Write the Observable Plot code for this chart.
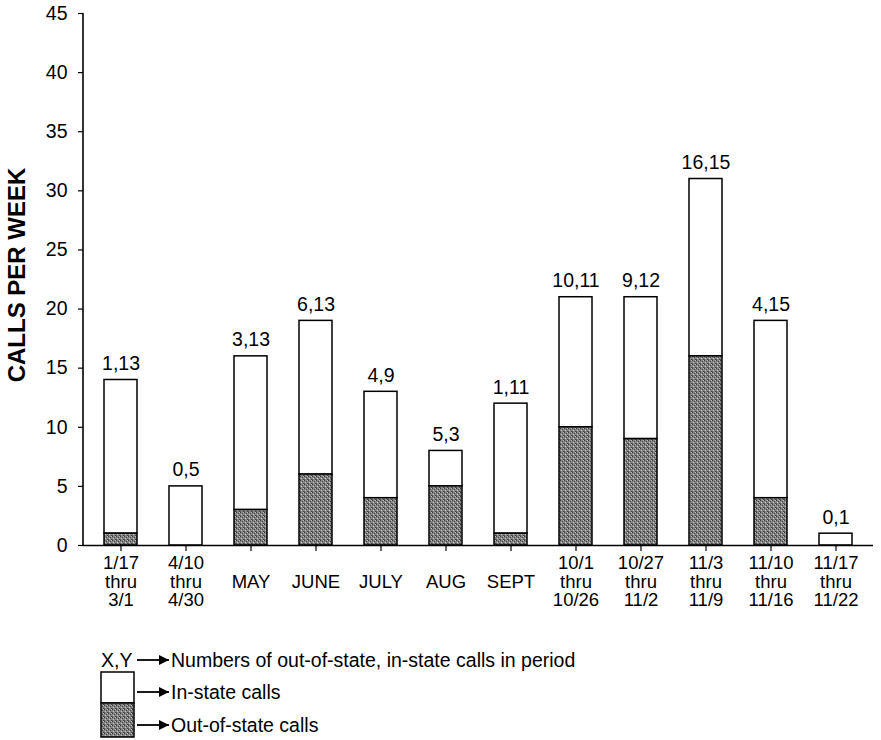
<!DOCTYPE html>
<html>
<head>
<meta charset="utf-8">
<script src="https://cdn.jsdelivr.net/npm/d3@7"></script>
<script src="https://cdn.jsdelivr.net/npm/@observablehq/plot@0.6"></script>
<style>
  html, body { margin: 0; padding: 0; background: #fff; }
  #chart svg { display: block; }
  #legend { display: block; }
</style>
</head>
<body>
<div id="chart"></div>
<svg id="legend" width="881" height="95" font-family="'Liberation Sans', Arial, Helvetica, sans-serif" font-size="19.5">
  <defs>
    <pattern id="stippleL" width="4" height="4" patternUnits="userSpaceOnUse">
      <rect width="4" height="4" fill="#858585"/>
      <rect x="0" y="0" width="1" height="1" fill="#3c3c3c"/>
      <rect x="2" y="1" width="1" height="1" fill="#4a4a4a"/>
      <rect x="1" y="2" width="1" height="1" fill="#c8c8c8"/>
      <rect x="3" y="3" width="1" height="1" fill="#444"/>
      <rect x="3" y="0" width="1" height="1" fill="#bbb"/>
      <rect x="0" y="3" width="1" height="1" fill="#5a5a5a"/>
    </pattern>
    <marker id="ah" viewBox="0 0 10 10" refX="10" refY="5" markerWidth="11" markerHeight="10" markerUnits="userSpaceOnUse" orient="auto">
      <path d="M0,0 L10,5 L0,10 z" fill="#000"/>
    </marker>
  </defs>
  <text x="101" y="15" dominant-baseline="central">X,Y</text>
  <line x1="137" y1="15" x2="169" y2="15" stroke="#000" stroke-width="1.8" marker-end="url(#ah)"/>
  <text x="171" y="15" dominant-baseline="central">Numbers of out-of-state, in-state calls in period</text>
  <rect x="101" y="27" width="33" height="31" fill="#fff" stroke="#000" stroke-width="1.5"/>
  <rect x="101" y="58" width="33" height="34" fill="url(#stippleL)" stroke="#000" stroke-width="1.5"/>
  <line x1="137" y1="47" x2="169" y2="47" stroke="#000" stroke-width="1.8" marker-end="url(#ah)"/>
  <text x="171" y="47" dominant-baseline="central">In-state calls</text>
  <line x1="137" y1="80" x2="169" y2="80" stroke="#000" stroke-width="1.8" marker-end="url(#ah)"/>
  <text x="171" y="80" dominant-baseline="central">Out-of-state calls</text>
</svg>
<script>
const periods = ["1/17-3/1", "4/10-4/30", "MAY", "JUNE", "JULY", "AUG", "SEPT",
  "10/1-10/26", "10/27-11/2", "11/3-11/9", "11/10-11/16", "11/17-11/22"];
const tickLabels = ["1/17\nthru\n3/1", "4/10\nthru\n4/30", "\nMAY", "\nJUNE", "\nJULY", "\nAUG", "\nSEPT",
  "10/1\nthru\n10/26", "10/27\nthru\n11/2", "11/3\nthru\n11/9", "11/10\nthru\n11/16", "11/17\nthru\n11/22"];
const outOfState = [1, 0, 3, 6, 4, 5, 1, 10, 9, 16, 4, 0];
const inState = [13, 5, 13, 13, 9, 3, 11, 11, 12, 15, 15, 1];
const yTicks = [0, 5, 10, 15, 20, 25, 30, 35, 40, 45];

const rows = periods.map((p, i) => ({
  period: p,
  out: outOfState[i],
  inn: inState[i],
  total: outOfState[i] + inState[i],
  label: `${outOfState[i]},${inState[i]}`
}));
const labelOf = new Map(periods.map((p, i) => [p, tickLabels[i]]));

const font = "'Liberation Sans', Arial, Helvetica, sans-serif";

const plot = Plot.plot({
  width: 881,
  height: 645,
  marginLeft: 83,
  marginRight: 8,
  marginTop: 13,
  marginBottom: 100,
  style: { fontFamily: font, fontSize: "19.5px", color: "#000", background: "#fff" },
  x: { domain: periods, paddingInner: 0.5, paddingOuter: 0.25, label: null },
  y: { domain: [0, 45], label: null },
  marks: [
    Plot.axisY({ ticks: yTicks, tickSize: 5, tickPadding: 11, tickFormat: d => d, fontSize: 19.5, label: null, strokeWidth: 1.2 }),
    Plot.axisX({ tickSize: 6, tickPadding: 5, tickFormat: d => labelOf.get(d), fontSize: 18.5, lineHeight: 0.98, label: null, strokeWidth: 1.2 }),
    Plot.barY(rows, { x: "period", y1: "out", y2: "total", fill: "#fff", stroke: "#000", strokeWidth: 1.5 }),
    Plot.barY(rows.filter(d => d.out > 0), { x: "period", y1: 0, y2: "out", fill: "#858585", stroke: "#000", strokeWidth: 1.5, className: "outbar" }),
    Plot.ruleY([0], { stroke: "#000", strokeWidth: 1.5 }),
    Plot.text(rows, { x: "period", y: "total", text: "label", dy: -10, lineAnchor: "bottom", fontSize: 19.5, fill: "#000" })
  ]
});

document.getElementById("chart").appendChild(plot);

// y-axis line and rotated axis title, positioned from the plot's own scales
const svg = d3.select(plot);
const ys = plot.scale("y");
const [yBottom, yTop] = ys.range;
svg.append("line")
  .attr("x1", 83).attr("x2", 83)
  .attr("y1", yTop).attr("y2", yBottom)
  .attr("stroke", "#000").attr("stroke-width", 1.6);
svg.append("text")
  .attr("transform", `translate(16,${(yTop + yBottom) / 2 - 4}) rotate(-90)`)
  .attr("text-anchor", "middle")
  .attr("dominant-baseline", "central")
  .attr("font-family", font)
  .attr("font-weight", "bold")
  .attr("font-size", 24)
  .text("CALLS PER WEEK");

// stipple texture for out-of-state bars
const defs = svg.insert("defs", ":first-child");
const pat = defs.append("pattern").attr("id", "stipple").attr("width", 4).attr("height", 4).attr("patternUnits", "userSpaceOnUse");
pat.append("rect").attr("width", 4).attr("height", 4).attr("fill", "#858585");
[[0,0,"#3c3c3c"],[2,1,"#4a4a4a"],[1,2,"#c8c8c8"],[3,3,"#444"],[3,0,"#bbb"],[0,3,"#5a5a5a"]].forEach(([x,y,c]) =>
  pat.append("rect").attr("x", x).attr("y", y).attr("width", 1).attr("height", 1).attr("fill", c));
svg.selectAll(".outbar rect").attr("fill", "url(#stipple)");
</script>
</body>
</html>
